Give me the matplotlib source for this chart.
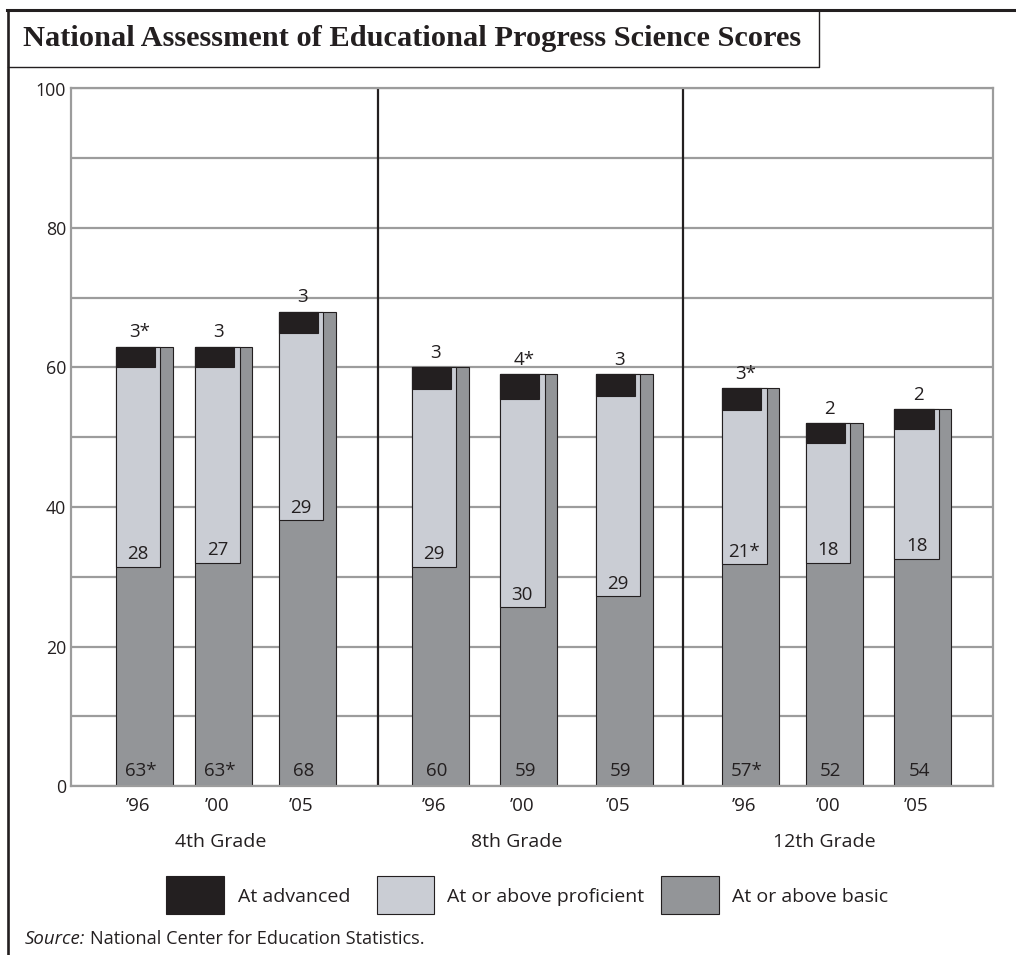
import matplotlib
matplotlib.use("Agg")
import matplotlib.pyplot as plt
from matplotlib.lines import Line2D
from matplotlib.patches import Rectangle

# ---------------- data ----------------
grades = ["4th Grade", "8th Grade", "12th Grade"]
years = ["\u201996", "\u201900", "\u201905"] * 3
basic = [63, 63, 68, 60, 59, 59, 57, 52, 54]                       # at or above basic (bar top)
proficient_floor = [31.4, 32.0, 38.1, 31.4, 25.6, 27.2, 31.8, 32.0, 32.6]  # lower edge of proficient bar
advanced_floor = [60.0, 60.0, 65.0, 56.9, 55.5, 55.9, 53.9, 49.2, 51.2]    # lower edge of advanced bar
basic_labels = ["63*", "63*", "68", "60", "59", "59", "57*", "52", "54"]
proficient_labels = ["28", "27", "29", "29", "30", "29", "21*", "18", "18"]
advanced_labels = ["3*", "3", "3", "3", "4*", "3", "3*", "2", "2"]
legend_labels = ["At advanced", "At or above proficient", "At or above basic"]
yticks = [0, 20, 40, 60, 80, 100]

# ---------------- layout / style ----------------
W, H = 1016, 955
bar_left = [115.7, 195.0, 278.7, 411.7, 500.0, 595.7, 722.0, 805.7, 894.3]
W_BASIC, W_PROF, W_ADV = 57.0, 44.7, 39.2
dividers = [378, 683]
group_label_x = [221, 517, 824.5]
C_BASIC, C_PROF, C_ADV = "#939598", "#cacdd4", "#231f20"
C_EDGE = "#231f20"
C_GRID = "#9c9c9c"
SANS = ["Open Sans", "DejaVu Sans"]
SERIF = ["Liberation Serif", "DejaVu Serif"]
plt.rcParams["font.family"] = SANS
TXT = "#231f20"
FS_BAR = 13.5

def fx(x):
    return x / W

def fy(y):
    return 1 - y / H

fig = plt.figure(figsize=(W / 100, H / 100), dpi=100)
ax_l, ax_r, ax_t, ax_b = 71, 993, 88.5, 786
ax = fig.add_axes([fx(ax_l), fy(ax_b), fx(ax_r) - fx(ax_l), fy(ax_t) - fy(ax_b)])
ax.set_xlim(ax_l, ax_r)
ax.set_ylim(0, 100)

# grid
ax.set_axisbelow(True)
ax.set_yticks(yticks)
ax.set_yticks(range(10, 100, 20), minor=True)
ax.yaxis.grid(True, which="both", color=C_GRID, lw=1.6)
ax.tick_params(axis="y", which="both", length=0, pad=3.5, labelsize=12.8, labelcolor=TXT)
for s in ax.spines.values():
    s.set_color(C_GRID)
    s.set_linewidth(1.6)

for d in dividers:
    ax.axvline(d, color=C_EDGE, lw=1.6, zorder=1.5)

# bars
ax.bar(bar_left, basic, width=W_BASIC, align="edge", color=C_BASIC,
       edgecolor=C_EDGE, lw=0.8, zorder=2)
ax.bar(bar_left, [b - f for b, f in zip(basic, proficient_floor)], bottom=proficient_floor,
       width=W_PROF, align="edge", color=C_PROF, edgecolor=C_EDGE, lw=0.8, zorder=3)
ax.bar(bar_left, [b - a for b, a in zip(basic, advanced_floor)], bottom=advanced_floor,
       width=W_ADV, align="edge", color=C_ADV, edgecolor=C_EDGE, lw=0.8, zorder=4)

# value labels
for i, x0 in enumerate(bar_left):
    ax.annotate(advanced_labels[i], (x0 + 24, basic[i]), xytext=(0, 6.8),
                textcoords="offset points", ha="center", va="baseline",
                fontsize=FS_BAR, color=TXT, zorder=6)
    ax.annotate(proficient_labels[i], (x0 + W_PROF / 2, proficient_floor[i]), xytext=(0, 5.4),
                textcoords="offset points", ha="center", va="baseline",
                fontsize=FS_BAR, color=TXT, zorder=6)
    ax.annotate(basic_labels[i], (x0 + 25, 0), xytext=(0, 7.2),
                textcoords="offset points", ha="center", va="baseline",
                fontsize=FS_BAR, color=TXT, zorder=6)

# x tick labels
ax.set_xticks([x0 + 22 for x0 in bar_left])
ax.set_xticklabels(years)
ax.tick_params(axis="x", length=0, pad=8, labelsize=FS_BAR, labelcolor=TXT)

# group labels
for gx, g in zip(group_label_x, grades):
    fig.text(fx(gx), fy(847), g, ha="center", va="baseline", fontsize=14, color=TXT)

# legend
legend_boxes = [(165.7, 224.0), (377.0, 434.0), (661.0, 718.7)]
legend_text_x = [237.7, 447.0, 732.3]
for (x0, x1), tx, lab, c in zip(legend_boxes, legend_text_x, legend_labels,
                                [C_ADV, C_PROF, C_BASIC]):
    fig.patches.append(Rectangle((fx(x0), fy(914)), fx(x1) - fx(x0), fy(875.7) - fy(914),
                                 transform=fig.transFigure, facecolor=c,
                                 edgecolor=C_EDGE, lw=0.8))
    fig.text(fx(tx), fy(902.3), lab, ha="left", va="baseline", fontsize=14, color=TXT)

# source
fig.text(fx(25), fy(944), "Source:", ha="left", va="baseline", fontsize=13.4,
         style="italic", color=TXT)
fig.text(fx(90), fy(944), "National Center for Education Statistics.", ha="left",
         va="baseline", fontsize=13.1, color=TXT)

# frame and title box
fig.add_artist(Line2D([fx(8.3), fx(8.3)], [fy(10), fy(955)], color=C_EDGE, lw=1.9,
                      transform=fig.transFigure))
fig.add_artist(Line2D([fx(7.3), fx(1016)], [fy(10), fy(10)], color=C_EDGE, lw=2.2,
                      transform=fig.transFigure))
fig.add_artist(Line2D([fx(8.3), fx(819.3), fx(819.3)], [fy(66.7), fy(66.7), fy(10)],
                      color=C_EDGE, lw=1.0, transform=fig.transFigure))
fig.text(fx(23.3), fy(45.5), "National Assessment of Educational Progress Science Scores",
         ha="left", va="baseline", fontsize=21.9, fontweight="bold", family=SERIF, color=TXT)

fig.savefig("out.png", dpi=100)
